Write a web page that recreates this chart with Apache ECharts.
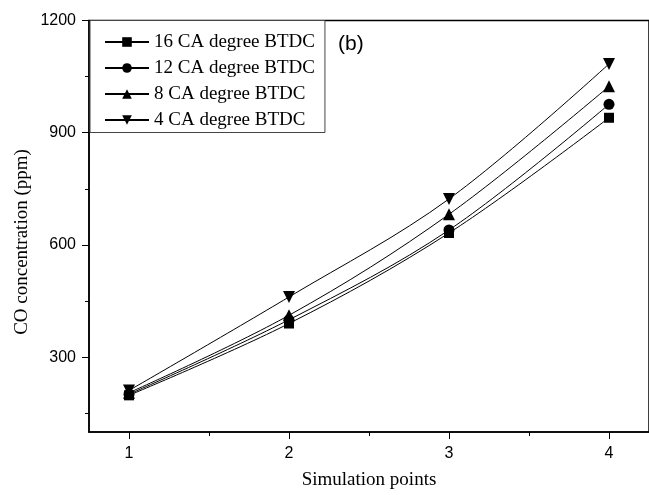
<!DOCTYPE html>
<html>
<head>
<meta charset="utf-8">
<script src="https://cdn.jsdelivr.net/npm/echarts@6/dist/echarts.min.js"></script>
<style>html,body{margin:0;padding:0;background:#fff}#c{width:649px;height:495px}</style>
</head>
<body>
<div id="c"></div>
<script>
var xPoints = [1, 2, 3, 4];
var s16 = [198, 390, 632, 940];
var s12 = [201, 400, 640, 976];
var s8  = [205, 412, 682, 1024];
var s4  = [211, 461, 723, 1084];
var seriesNames = ['16 CA degree BTDC', '12 CA degree BTDC', '8 CA degree BTDC', '4 CA degree BTDC'];
var yMajor = [300, 600, 900, 1200];
var yMinor = [150, 450, 750, 1050];
var xMajor = [1, 2, 3, 4];
var xMinor = [1.5, 2.5, 3.5];

var serif = '"Times New Roman", "Liberation Serif", serif';
var sans = 'Arial, "Liberation Sans", sans-serif';

function pairs(arr) { return xPoints.map(function (x, i) { return [x, arr[i]]; }); }

var symbols = [
  {symbol: 'rect', size: 10, rot: 0},
  {symbol: 'circle', size: 11, rot: 0},
  {symbol: 'triangle', size: 12, rot: 0},
  {symbol: 'triangle', size: 12, rot: 180}
];
var dataSets = [s16, s12, s8, s4];

var series = dataSets.map(function (d, i) {
  return {
    name: seriesNames[i],
    type: 'line',
    xAxisIndex: 0, yAxisIndex: 0,
    data: pairs(d),
    smooth: 0.35,
    symbol: symbols[i].symbol,
    symbolSize: symbols[i].size,
    symbolRotate: symbols[i].rot,
    showAllSymbol: true,
    lineStyle: {color: '#000', width: 1},
    itemStyle: {color: '#000', borderColor: '#000', borderWidth: 0},
    animation: false,
    z: 5
  };
});

var labelStyle = {fontFamily: sans, fontSize: 16, color: '#000'};
function plain(v) { return String(Math.round(v)); }

var chart = echarts.init(document.getElementById('c'), null, {renderer: 'canvas'});
var gridPos = {left: 89, top: 20.5, right: -3.5, bottom: 51.4};
chart.setOption({
  animation: false,
  backgroundColor: '#fff',
  textStyle: {fontFamily: sans, fontSize: 16},
  grid: Object.assign({show: true, borderColor: '#000', borderWidth: 1.5, backgroundColor: 'transparent'}, gridPos),
  xAxis: [
    {
      type: 'value', min: 0.75, max: 4.25, gridIndex: 0,
      axisLine: {show: true, onZero: false, lineStyle: {color: '#000', width: 1.5}},
      axisTick: {show: true, length: 7, customValues: xMajor, lineStyle: {color: '#000', width: 1}},
      axisLabel: Object.assign({show: true, customValues: xMajor, margin: 14, formatter: plain}, labelStyle),
      splitLine: {show: false},
      name: 'Simulation points', nameLocation: 'middle', nameGap: 39,
      nameTextStyle: {fontFamily: serif, fontSize: 19, color: '#000'}
    },
    {
      type: 'value', min: 0.75, max: 4.25, gridIndex: 0, position: 'bottom',
      axisLine: {show: false, onZero: false},
      axisTick: {show: true, length: 4, customValues: xMinor, lineStyle: {color: '#000', width: 1}},
      axisLabel: {show: false},
      splitLine: {show: false}
    }
  ],
  yAxis: [
    {
      type: 'value', min: 100, max: 1200, gridIndex: 0,
      axisLine: {show: true, onZero: false, lineStyle: {color: '#000', width: 1.5}},
      axisTick: {show: true, length: 7, customValues: yMajor, lineStyle: {color: '#000', width: 1}},
      axisLabel: Object.assign({show: true, customValues: yMajor, margin: 13, formatter: plain}, labelStyle),
      splitLine: {show: false}
    },
    {
      type: 'value', min: 100, max: 1200, gridIndex: 0, position: 'left',
      axisLine: {show: false, onZero: false},
      axisTick: {show: true, length: 4, customValues: yMinor, lineStyle: {color: '#000', width: 1}},
      axisLabel: {show: false},
      splitLine: {show: false}
    }
  ],
  legend: {
    data: seriesNames,
    orient: 'vertical',
    left: 90, top: 20.5,
    padding: [12, 10, 3, 14],
    itemWidth: 44, itemHeight: 12, itemGap: 7,
    borderColor: '#444', borderWidth: 1,
    backgroundColor: '#fff',
    textStyle: {fontFamily: serif, fontSize: 19, color: '#000', lineHeight: 19},
    selectedMode: false
  },
  graphic: [
    {
      type: 'text',
      rotation: Math.PI / 2,
      x: 22, y: 242,
      style: {text: 'CO concentration (ppm)', font: '19px ' + serif, fill: '#000', textAlign: 'center', textVerticalAlign: 'middle'}
    },
    {
      type: 'text', x: 338, y: 44,
      style: {text: '(b)', font: '21px ' + sans, fill: '#000', textVerticalAlign: 'middle'}
    }
  ],
  series: series
});
</script>
</body>
</html>
